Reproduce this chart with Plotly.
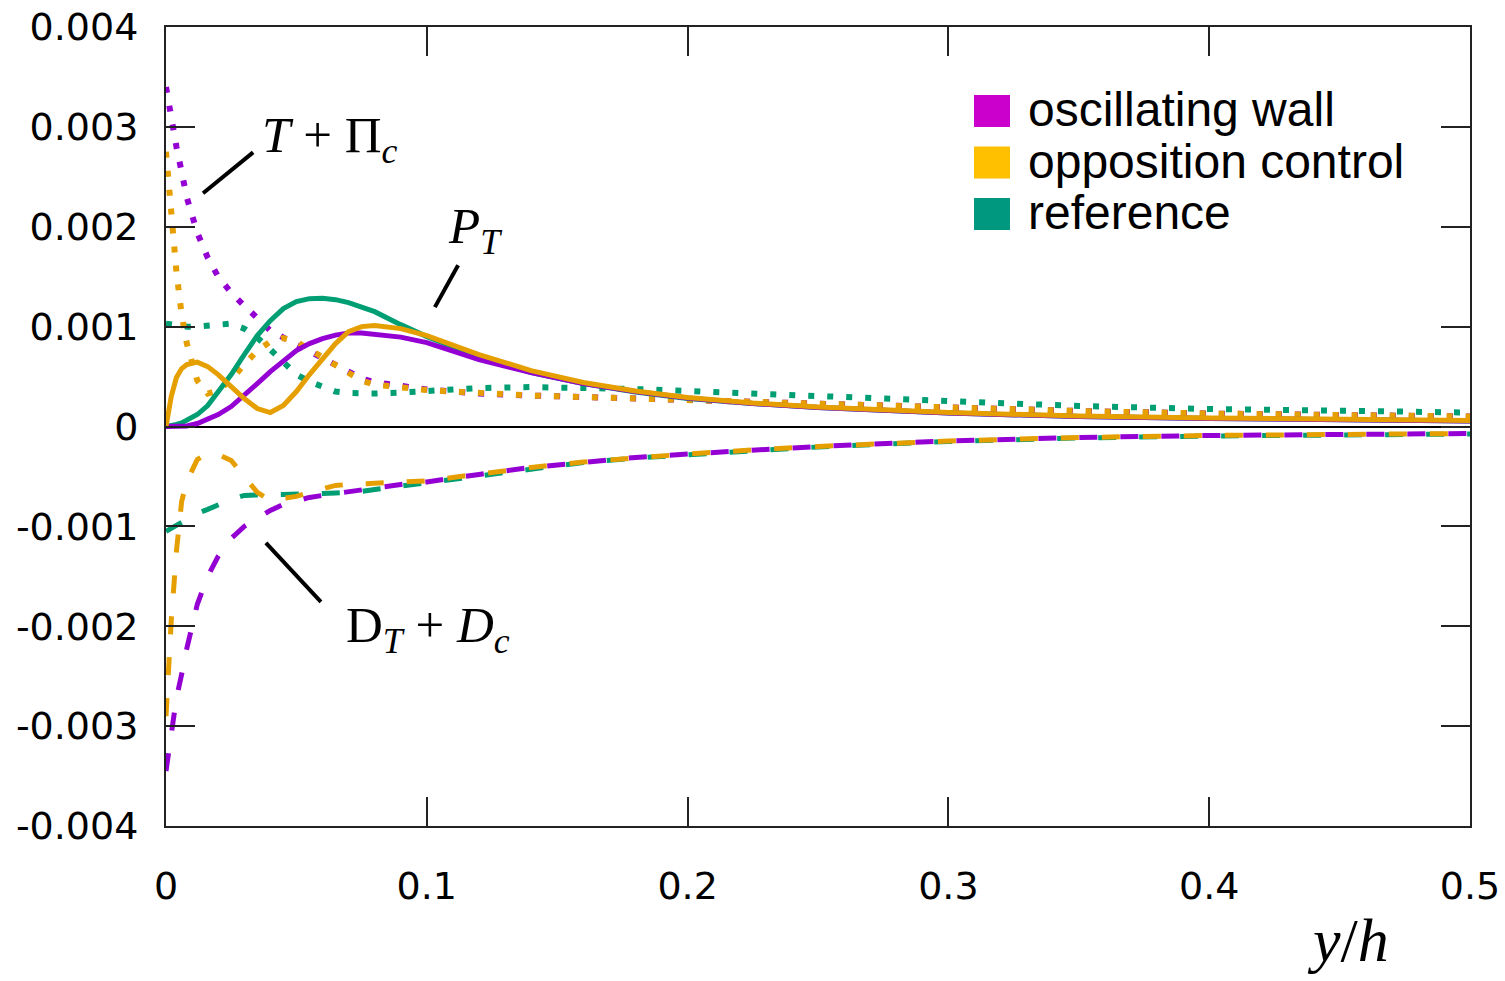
import plotly.graph_objects as go

# Wall-normal coordinate y/h
y_h = [0, 0.002, 0.004, 0.006, 0.008, 0.012, 0.016, 0.02, 0.025, 0.03,
       0.035, 0.04, 0.045, 0.05, 0.055, 0.06, 0.065, 0.07, 0.075, 0.08,
       0.09, 0.1, 0.11, 0.12, 0.14, 0.16, 0.18, 0.2, 0.225, 0.25,
       0.3, 0.35, 0.4, 0.45, 0.5]

# Budget terms, in units of 1e-3
# Production P_T (solid)
pt_osc = [0, 0, 0, 0.002, 0.005, 0.03, 0.07, 0.12, 0.20, 0.31,
          0.43, 0.55, 0.66, 0.76, 0.83, 0.88, 0.915, 0.935, 0.935, 0.925,
          0.895, 0.84, 0.75, 0.67, 0.54, 0.43, 0.35, 0.285, 0.23, 0.19,
          0.135, 0.10, 0.08, 0.065, 0.055]
pt_opp = [0, 0.30, 0.49, 0.58, 0.62, 0.645, 0.60, 0.52, 0.40, 0.28,
          0.18, 0.14, 0.21, 0.35, 0.52, 0.68, 0.83, 0.95, 1.00, 1.01,
          0.98, 0.91, 0.82, 0.72, 0.56, 0.44, 0.355, 0.29, 0.235, 0.195,
          0.14, 0.105, 0.085, 0.07, 0.06]
pt_ref = [0, 0.005, 0.02, 0.035, 0.06, 0.12, 0.21, 0.34, 0.52, 0.72,
          0.91, 1.06, 1.18, 1.25, 1.28, 1.285, 1.27, 1.24, 1.20, 1.15,
          1.02, 0.90, 0.80, 0.70, 0.54, 0.43, 0.345, 0.28, 0.23, 0.19,
          0.135, 0.10, 0.08, 0.065, 0.055]

# T + Pi_c (dotted)
tp_osc = [3.40, 3.08, 2.80, 2.55, 2.29, 1.94, 1.69, 1.50, 1.34, 1.21,
          1.09, 0.96, 0.89, 0.82, 0.76, 0.69, 0.61, 0.54, 0.48, 0.445,
          0.40, 0.37, 0.35, 0.33, 0.31, 0.295, 0.28, 0.265, 0.245, 0.225,
          0.185, 0.155, 0.13, 0.11, 0.10]
tp_opp = [2.75, 2.10, 1.55, 1.12, 0.83, 0.46, 0.33, 0.36, 0.47, 0.62,
          0.76, 0.85, 0.885, 0.85, 0.77, 0.69, 0.61, 0.53, 0.46, 0.42,
          0.385, 0.365, 0.35, 0.335, 0.31, 0.295, 0.28, 0.265, 0.245, 0.225,
          0.185, 0.155, 0.13, 0.11, 0.10]
tp_ref = [1.03, 1.02, 1.01, 1.005, 1.0, 1.0, 1.01, 1.03, 1.03, 0.98,
          0.89, 0.77, 0.64, 0.52, 0.45, 0.40, 0.35, 0.335, 0.33, 0.33,
          0.34, 0.355, 0.375, 0.385, 0.395, 0.39, 0.375, 0.355, 0.33, 0.30,
          0.245, 0.205, 0.175, 0.155, 0.14]

# D_T + D_c (dashed)
dd_osc = [-3.45, -3.05, -2.72, -2.48, -2.22, -1.78, -1.50, -1.30, -1.12, -1.00,
          -0.92, -0.84, -0.78, -0.74, -0.71, -0.69, -0.67, -0.655, -0.64, -0.62,
          -0.58, -0.555, -0.515, -0.48, -0.41, -0.355, -0.31, -0.275, -0.235, -0.20,
          -0.145, -0.11, -0.09, -0.08, -0.07]
dd_opp = [-2.90, -1.95, -1.25, -0.75, -0.55, -0.33, -0.27, -0.28, -0.34, -0.50,
          -0.66, -0.74, -0.72, -0.70, -0.66, -0.62, -0.59, -0.58, -0.575, -0.57,
          -0.56, -0.545, -0.51, -0.475, -0.41, -0.355, -0.31, -0.275, -0.235, -0.20,
          -0.145, -0.11, -0.09, -0.08, -0.07]
dd_ref = [-1.05, -1.02, -0.98, -0.95, -0.92, -0.87, -0.83, -0.78, -0.73, -0.69,
          -0.68, -0.68, -0.68, -0.68, -0.675, -0.67, -0.665, -0.66, -0.65, -0.63,
          -0.595, -0.56, -0.525, -0.49, -0.42, -0.36, -0.315, -0.28, -0.24, -0.205,
          -0.15, -0.115, -0.095, -0.085, -0.075]

x_ticks = [0, 0.1, 0.2, 0.3, 0.4, 0.5]
x_tick_text = ["0", "0.1", "0.2", "0.3", "0.4", "0.5"]
y_ticks = [-0.004, -0.003, -0.002, -0.001, 0, 0.001, 0.002, 0.003, 0.004]
y_tick_text = ["-0.004", "-0.003", "-0.002", "-0.001", "0",
               "0.001", "0.002", "0.003", "0.004"]

cases = ["oscillating wall", "opposition control", "reference"]
line_colors = {"oscillating wall": "#9400D3",
               "opposition control": "#E69F00",
               "reference": "#009E73"}
legend_colors = {"oscillating wall": "#CC00CC",
                 "opposition control": "#FFC000",
                 "reference": "#009980"}

SCALE = 1e-3
W, H = 1505, 981
L, R, T, B = 166, 35, 27, 155

fig = go.Figure()

styles = {
    "dash": dict(width=5, dash="18px,23px"),
    "dot": dict(width=6, dash="6px,13px"),
    "solid": dict(width=5, dash="solid"),
}
groups = [
    ("dash", {"reference": dd_ref, "oscillating wall": dd_osc, "opposition control": dd_opp}),
    ("dot", {"reference": tp_ref, "oscillating wall": tp_osc, "opposition control": tp_opp}),
    ("solid", {"reference": pt_ref, "oscillating wall": pt_osc, "opposition control": pt_opp}),
]
for style, data in groups:
    for case in ["reference", "oscillating wall", "opposition control"]:
        fig.add_trace(go.Scatter(
            x=y_h, y=[v * SCALE for v in data[case]], mode="lines",
            line=dict(color=line_colors[case], **styles[style]),
            showlegend=False, hoverinfo="skip"))


def px_to_paper(px, py):
    return (px - L) / (W - L - R), (H - B - py) / (H - T - B)


shapes = []
annotations = []

# Leader lines from labels to the curve families
leaders = [((0.0142, 0.002335), (0.0334, 0.002745)),
           ((0.1031, 0.001195), (0.1120, 0.001615)),
           ((0.0383, -0.001165), (0.0594, -0.001755))]
for (x0, y0), (x1, y1) in leaders:
    shapes.append(dict(type="line", xref="x", yref="y", x0=x0, y0=y0, x1=x1, y1=y1,
                       line=dict(color="black", width=4)))

math_font = dict(family="Liberation Serif", size=51, color="black")
labels = [("<i>T</i> + Π<sub><i>c</i></sub>", 0.0625, 0.00288),
          ("<i>P</i><sub><i>T</i></sub>", 0.1185, 0.00197),
          ("D<sub><i>T</i></sub> + <i>D</i><sub><i>c</i></sub>", 0.1005, -0.00203)]
for text, x, y in labels:
    annotations.append(dict(text=text, x=x, y=y, xref="x", yref="y", showarrow=False,
                            font=math_font, xanchor="center", yanchor="middle"))

# Legend: coloured squares with case names
for i, case in enumerate(cases):
    top = 95 + i * 51.5
    x0, y0 = px_to_paper(974, top + 32)
    x1, y1 = px_to_paper(1010, top)
    shapes.append(dict(type="rect", xref="paper", yref="paper", x0=x0, y0=y0, x1=x1, y1=y1,
                       fillcolor=legend_colors[case], line=dict(width=0)))
    tx, ty = px_to_paper(1026, top + 15)
    annotations.append(dict(text=case, x=tx, y=ty, xref="paper", yref="paper",
                            showarrow=False, xanchor="left", yanchor="middle",
                            font=dict(family="Liberation Sans", size=48, color="black")))

# Axis title
ax, ay = px_to_paper(1348, 940)
annotations.append(dict(text="<i>y</i>/<i>h</i>", x=ax, y=ay, xref="paper", yref="paper",
                        showarrow=False, xanchor="center", yanchor="middle",
                        font=dict(family="Liberation Serif", size=62, color="black")))

tick_font = dict(family="DejaVu Sans", size=38, color="black")
axis_common = dict(showline=True, linecolor="#222222", linewidth=2, mirror="allticks",
                   ticks="inside", ticklen=29, tickwidth=2, tickcolor="#222222",
                   showgrid=False, tickfont=tick_font, automargin=False)

fig.update_layout(
    width=W, height=H,
    margin=dict(l=L, r=R, t=T, b=B, autoexpand=False),
    paper_bgcolor="white", plot_bgcolor="white",
    shapes=shapes, annotations=annotations,
    xaxis=dict(range=[0, 0.5], tickvals=x_ticks, ticktext=x_tick_text,
               zeroline=False, ticklabelstandoff=25, **axis_common),
    yaxis=dict(range=[-0.004, 0.004], tickvals=y_ticks, ticktext=y_tick_text,
               zeroline=True, zerolinecolor="black", zerolinewidth=2,
               ticklabelstandoff=18, **axis_common),
)

fig.write_html("out.html")
